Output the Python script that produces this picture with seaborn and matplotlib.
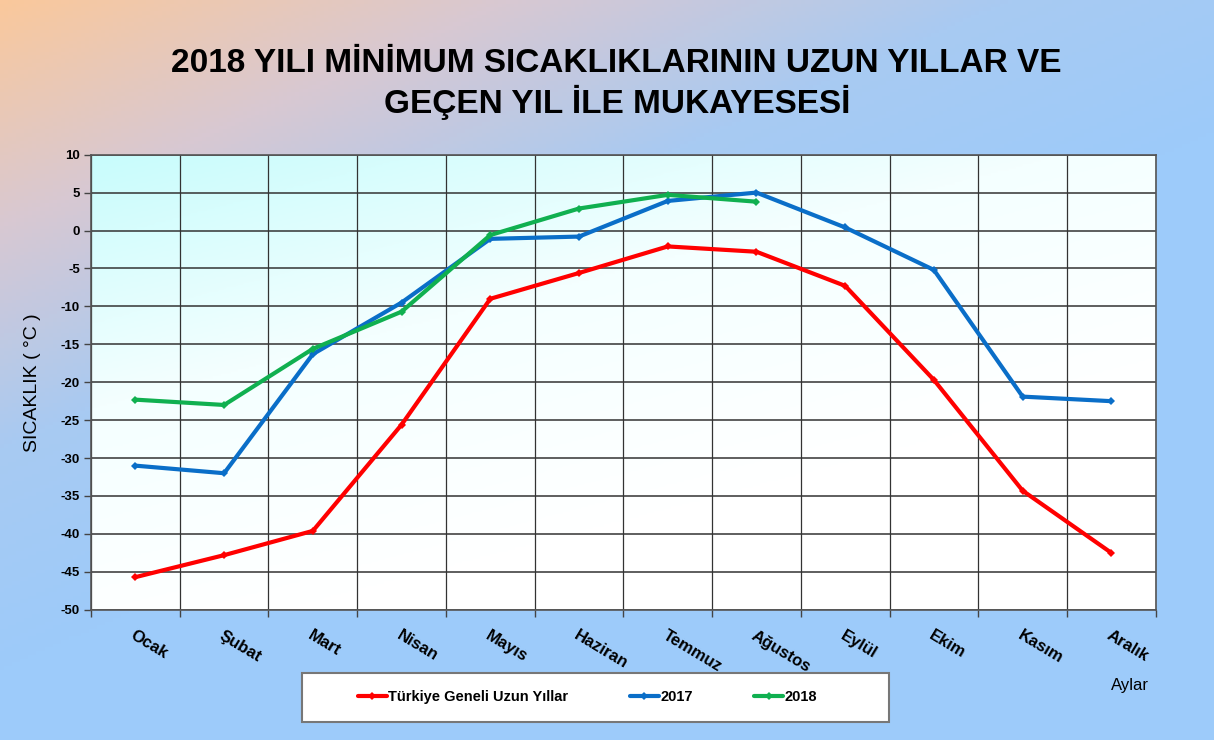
import numpy as np
import pandas as pd
import matplotlib
matplotlib.use("Agg")
import matplotlib.pyplot as plt
from matplotlib.colors import LinearSegmentedColormap
from matplotlib.patches import Rectangle
from matplotlib.ticker import MultipleLocator, FixedLocator
import seaborn as sns

# -------------------------
# Data
# -------------------------
months = ["Ocak", "Şubat", "Mart", "Nisan", "Mayıs", "Haziran",
          "Temmuz", "Ağustos", "Eylül", "Ekim", "Kasım", "Aralık"]

uzun_yillar = [-45.7, -42.8, -39.6, -25.6, -9.0, -5.6,
               -2.1, -2.8, -7.3, -19.7, -34.3, -42.5]
y2017 = [-31.0, -32.0, -16.3, -9.5, -1.1, -0.8,
         3.9, 5.0, 0.4, -5.2, -21.9, -22.5]
y2018 = [-22.3, -23.0, -15.6, -10.7, -0.6, 2.9, 4.7, 3.8]

series_names = ["Türkiye Geneli Uzun Yıllar", "2017", "2018"]
series_colors = ["#FF0000", "#0A6EC8", "#10B050"]

rows = []
for name, vals in zip(series_names, [uzun_yillar, y2017, y2018]):
    for i, v in enumerate(vals):
        rows.append({"idx": i, "ay": months[i], "deger": v, "seri": name})
df = pd.DataFrame(rows)


# -------------------------
# Plot
# -------------------------
def main():
    sns.set_theme(style="white")
    plt.rcParams["font.family"] = ["Liberation Sans", "DejaVu Sans"]
    plt.rcParams["axes.unicode_minus"] = False
    plt.rcParams["text.color"] = "black"
    plt.rcParams["axes.labelcolor"] = "black"
    plt.rcParams["xtick.color"] = "black"
    plt.rcParams["ytick.color"] = "black"

    fig = plt.figure(figsize=(12.14, 7.40), dpi=100)

    # figure background gradient (peach top-left -> light blue)
    bg = fig.add_axes([0, 0, 1, 1], zorder=-10)
    gx, gy = np.meshgrid(np.linspace(0, 1, 300), np.linspace(0, 1, 200))
    t = np.clip(gx * 0.8 + gy * 1.1, 0, 1)
    bg_cmap = LinearSegmentedColormap.from_list("bg", ["#FAC89C", "#D8C8D2", "#A8CAF2", "#9DCBFA"])
    bg.imshow(t, cmap=bg_cmap, aspect="auto", extent=[0, 1, 0, 1], origin="upper", vmin=0, vmax=1)
    bg.axis("off")

    ax = fig.add_axes([0.075, 0.176, 0.877, 0.615])

    # plot area gradient (light cyan -> white)
    px, py = np.meshgrid(np.linspace(0, 1, 300), np.linspace(0, 1, 200))
    pt = np.clip(px * 0.55 + py * 0.9, 0, 1)
    pa_cmap = LinearSegmentedColormap.from_list("pa", ["#C8FCFC", "#F4FFFF", "#FFFFFF"])
    ax.imshow(pt, cmap=pa_cmap, aspect="auto", extent=[-0.5, 11.5, 10, -50],
              origin="lower", vmin=0, vmax=1, zorder=0)

    sns.lineplot(
        data=df, x="idx", y="deger", hue="seri",
        hue_order=series_names, palette=series_colors,
        marker="D", markersize=4, linewidth=3, markeredgewidth=0,
        ax=ax, zorder=3, legend=True
    )

    ax.set_xlim(-0.5, 11.5)
    ax.set_ylim(-50, 10)

    ax.yaxis.set_major_locator(MultipleLocator(5))
    ax.set_xticks(range(12))
    ax.set_xticklabels(months, rotation=-31, ha="left", va="top",
                       rotation_mode="anchor", fontsize=12, fontweight="bold")
    ax.xaxis.set_minor_locator(FixedLocator(np.arange(-0.5, 12, 1)))
    ax.tick_params(axis="x", which="major", length=0, pad=13)
    ax.tick_params(axis="x", which="minor", length=5, width=1, color="#444444", bottom=True)
    ax.tick_params(axis="y", which="major", length=5, width=1, color="#444444",
                   left=True, labelsize=9.5, pad=3)
    for lab in ax.get_yticklabels():
        lab.set_fontweight("bold")

    ax.grid(axis="y", which="major", color="#333333", linewidth=1.1, zorder=1)
    ax.grid(axis="x", which="minor", color="#333333", linewidth=0.9, zorder=1)
    ax.grid(axis="x", which="major", visible=False)
    ax.set_axisbelow(True)
    for s in ax.spines.values():
        s.set_color("#555555")
        s.set_linewidth(1.2)

    ax.set_xlabel("")
    ax.set_ylabel("SICAKLIK ( °C )", fontsize=14, labelpad=14)

    # legend: box drawn separately, entries centred inside
    handles, labels = ax.get_legend_handles_labels()
    ax.get_legend().remove()
    fig.patches.append(Rectangle((0.249, 0.025), 0.483, 0.066, transform=fig.transFigure,
                                 facecolor="white", edgecolor="#777777", linewidth=1.5,
                                 zorder=-1))
    fig.legend(
        handles, labels, ncol=3, loc="center",
        bbox_to_anchor=(0.484, 0.058),
        frameon=False, handlelength=2.0, handletextpad=0.1,
        columnspacing=4.2, prop={"weight": "bold", "size": 10.5}
    )

    fig.text(0.931, 0.073, "Aylar", fontsize=12, ha="center", va="center")

    fig.text(0.508, 0.886,
             "2018 YILI MİNİMUM SICAKLIKLARININ UZUN YILLAR VE\nGEÇEN YIL İLE MUKAYESESİ",
             ha="center", va="center", fontsize=24, fontweight="bold",
             linespacing=1.2)

    plt.savefig("out.png", dpi=100)


if __name__ == "__main__":
    main()
